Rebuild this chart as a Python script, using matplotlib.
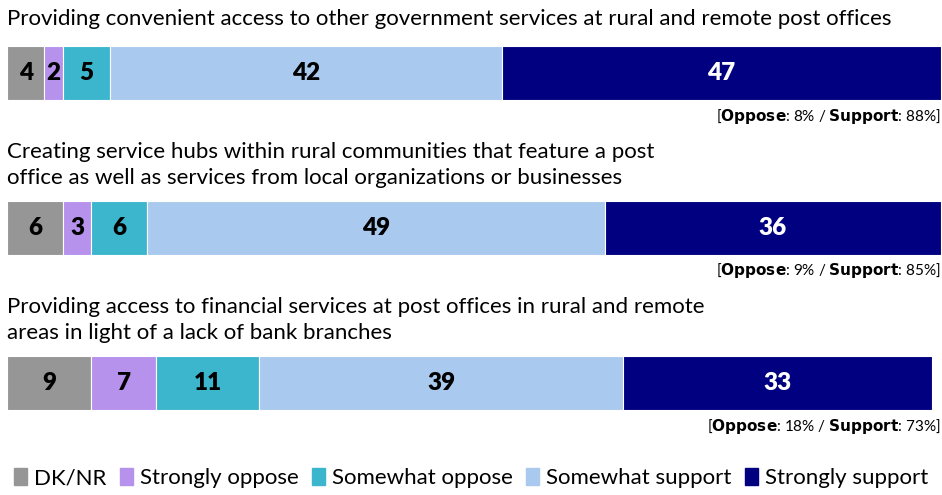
import matplotlib.pyplot as plt

plt.rcParams['font.family'] = ['Lato', 'DejaVu Sans']

questions = [
    "Providing convenient access to other government services at rural and remote post offices",
    "Creating service hubs within rural communities that feature a post\noffice as well as services from local organizations or businesses",
    "Providing access to financial services at post offices in rural and remote\nareas in light of a lack of bank branches",
]
categories = ["DK/NR", "Strongly oppose", "Somewhat oppose", "Somewhat support", "Strongly support"]
dk_nr = [4, 6, 9]
strongly_oppose = [2, 3, 7]
somewhat_oppose = [5, 6, 11]
somewhat_support = [42, 49, 39]
strongly_support = [47, 36, 33]
oppose_totals = [8, 9, 18]
support_totals = [88, 85, 73]

colors = ["#969696", "#b692ec", "#3cb6cc", "#a9caee", "#000080"]
text_colors = ["black", "black", "black", "black", "white"]

series = [dk_nr, strongly_oppose, somewhat_oppose, somewhat_support, strongly_support]

fig = plt.figure(figsize=(9.42, 4.95), dpi=100)
ax = fig.add_axes([7 / 942, 0, 934 / 942, 1])
ax.set_xlim(0, 100)
ax.set_ylim(495, 0)
ax.axis('off')

bar_y = [73, 228, 383]
title_y = [19, 165, 320]
note_y = [116, 271, 426]

for i, q in enumerate(questions):
    left = 0
    for s, vals in enumerate(series):
        v = vals[i]
        ax.barh(bar_y[i], v, left=left, height=54, color=colors[s], edgecolor='white', linewidth=0.8)
        ax.text(left + v / 2, bar_y[i], str(v), ha='center', va='center',
                fontsize=17.5, fontweight='heavy', color=text_colors[s])
        left += v
    ax.text(0, title_y[i], q, ha='left', va='center', fontsize=16, linespacing=1.35)
    ax.text(100, note_y[i], "[$\\bf{Oppose}$: %d%% / $\\bf{Support}$: %d%%]" % (oppose_totals[i], support_totals[i]),
            ha='right', va='center', fontsize=11)

handles = [plt.Rectangle((0, 0), 1, 1, color=c) for c in colors]
fig.legend(handles, categories, loc='center', bbox_to_anchor=(0.5, 17 / 495), ncol=5,
           frameon=False, fontsize=16, handlelength=0.6, handleheight=0.8,
           handletextpad=0.3, columnspacing=0.6)

fig.savefig("out.png", dpi=100)
